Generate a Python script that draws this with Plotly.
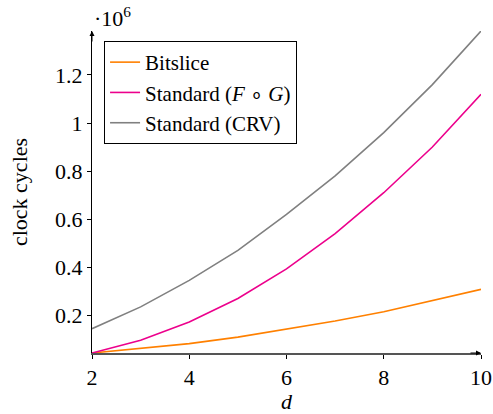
import plotly.graph_objects as go

d = [2, 3, 4, 5, 6, 7, 8, 9, 10]
bitslice = [43000, 61000, 82000, 109000, 142000, 176000, 215000, 260000, 308000]
standard_fg = [43000, 96000, 172000, 270000, 393000, 540000, 710000, 900000, 1120000]
standard_crv = [144000, 235000, 345000, 470000, 620000, 780000, 960000, 1160000, 1383000]

names = ["Bitslice", "Standard (<i>F</i> ∘ <i>G</i>)", "Standard (CRV)"]
colors = ["#ff8000", "#ec008c", "#808080"]
series = [bitslice, standard_fg, standard_crv]

ytickvals = [200000, 400000, 600000, 800000, 1000000, 1200000]
yticktext = ["0.2", "0.4", "0.6", "0.8", "1", "1.2"]
xtickvals = [2, 4, 6, 8, 10]

FONT = "Liberation Serif"

fig = go.Figure()
for n, c, s in zip(names, colors, series):
    fig.add_trace(go.Scatter(x=d, y=s, mode="lines", name=n,
                             line=dict(color=c, width=1.6)))

fig.update_layout(
    width=493, height=414,
    margin=dict(l=92, r=12, t=31, b=61),
    paper_bgcolor="white", plot_bgcolor="white",
    font=dict(family=FONT, size=21, color="black"),
    showlegend=True,
    legend=dict(x=0.031, y=0.969, xanchor="left", yanchor="top",
                bordercolor="black", borderwidth=1, bgcolor="white",
                font=dict(family=FONT, size=21), tracegroupgap=0,
                itemwidth=30),
    xaxis=dict(range=[2, 10], tickvals=xtickvals, showgrid=False, zeroline=False,
               automargin=False,
               showline=True, linecolor="#555", linewidth=1.6,
               ticks="outside", ticklen=4, tickcolor="black",
               tickfont=dict(family=FONT, size=22),
               title=dict(text="<i>d</i>", font=dict(family=FONT, size=22), standoff=2)),
    yaxis=dict(range=[43000, 1383000], tickvals=ytickvals, ticktext=yticktext,
               showgrid=False, zeroline=False, automargin=False,
               showline=True, linecolor="black", linewidth=1,
               ticks="outside", ticklen=4, tickcolor="black",
               tickfont=dict(family=FONT, size=22),
               title=dict(text="clock cycles", font=dict(family=FONT, size=22), standoff=21)),
)

fig.add_annotation(xref="paper", yref="paper", x=0, y=1, ax=0, ay=12,
                   showarrow=True, arrowhead=2, arrowsize=1, arrowwidth=1,
                   arrowcolor="black", text="")
fig.add_annotation(xref="paper", yref="paper", x=1, y=0, ax=-12, ay=0,
                   showarrow=True, arrowhead=2, arrowsize=1, arrowwidth=1,
                   arrowcolor="black", text="")
fig.add_annotation(xref="paper", yref="paper", x=0, y=1, yshift=14,
                   xanchor="left", yanchor="middle", showarrow=False,
                   text="·10<sup>6</sup>", font=dict(family=FONT, size=22))

fig.write_html("out.html",
               config={"displayModeBar": False},
               post_script="document.body.style.margin='0';document.body.style.overflow='hidden';")
